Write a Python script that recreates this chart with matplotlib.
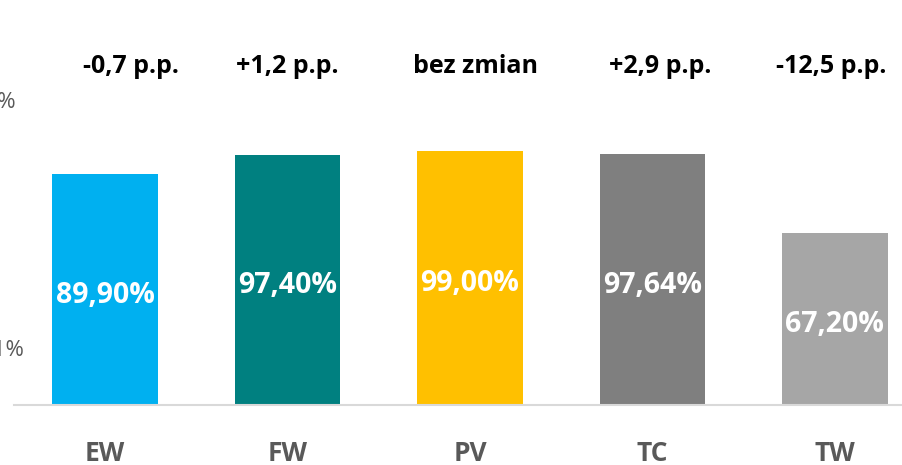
import matplotlib.pyplot as plt
import numpy as np

plt.rcParams['font.family'] = ['Open Sans', 'DejaVu Sans']

# Data
categories = ["EW", "FW", "PV", "TC", "TW"]
values = [89.90, 97.40, 99.00, 97.64, 67.20]
value_labels = ["89,90%", "97,40%", "99,00%", "97,64%", "67,20%"]
changes = ["-0,7 p.p.", "+1,2 p.p.", "bez zmian", "+2,9 p.p.", "-12,5 p.p."]
colors = ["#00B0F0", "#008080", "#FFC000", "#7F7F7F", "#A6A6A6"]

# cut-off axis labels on the left edge
side_ticks = [117.7, 21.4]
side_labels = ["120%", "21%"]

fig = plt.figure(figsize=(9.02, 4.65), dpi=100)
# axes run past the figure edges, as in the cropped original
ax = fig.add_axes([14 / 902, 60 / 465, 912 / 902, 308 / 465])

x = np.arange(len(categories))
ax.bar(x, values, width=0.58, color=colors, zorder=2)

ax.set_xlim(-0.5, 4.5)
ax.set_ylim(0, 120)

for i, v in enumerate(values):
    ax.text(x[i], v / 2 - 2.2, value_labels[i], ha="center", va="center",
            color="white", fontsize=20.5, fontweight="bold")

change_offsets = [0.14, 0, 0.03, 0.04, -0.02]
for i, c in enumerate(changes):
    ax.text(x[i] + change_offsets[i], 131.7, c, ha="center", va="center",
            color="black", fontsize=18, fontweight="bold")

ax.text(-0.488, side_ticks[0], side_labels[0], ha="right", va="center",
        color="#595959", fontsize=16)
ax.text(-0.44, side_ticks[1], side_labels[1], ha="right", va="center",
        color="#595959", fontsize=16)

ax.set_xticks(x)
ax.set_xticklabels(categories, fontsize=19, fontweight="bold", color="#595959")
ax.tick_params(axis="x", length=0, pad=25)
ax.set_yticks([])

for s in ["top", "right", "left"]:
    ax.spines[s].set_visible(False)
ax.spines["bottom"].set_color("#D9D9D9")
ax.spines["bottom"].set_linewidth(1.5)

plt.savefig("out.png", dpi=100)
